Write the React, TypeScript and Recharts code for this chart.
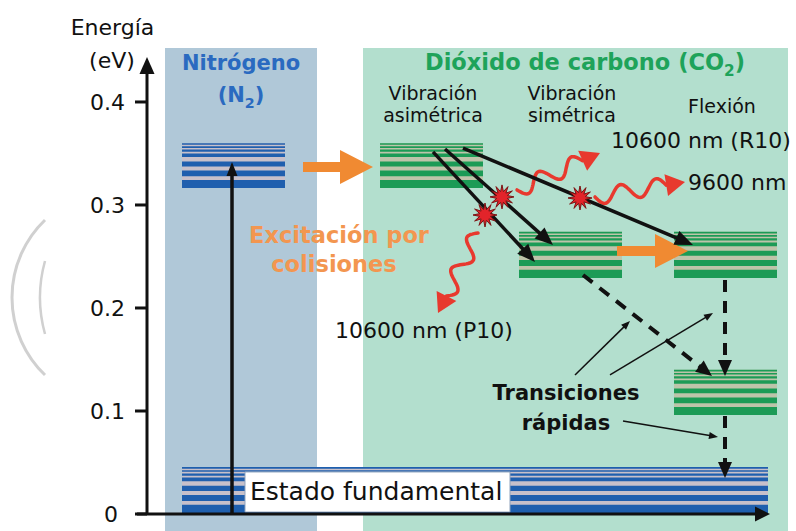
import React from 'react';
import { ComposedChart, XAxis, YAxis, ReferenceArea, ReferenceLine, ReferenceDot, Scatter } from 'recharts';

const FONT = '"DejaVu Sans", sans-serif';

// energy axis (eV)
const energyTicks = [0, 0.1, 0.2, 0.3, 0.4];

// molecule panels, x measured in px to the right of the energy axis
const panelNames = ['Nitrógeno', 'Dióxido de carbono'];
const panelStart = [18, 216];
const panelEnd = [170, 641];
const panelTop = 0.4524;

// vibrational levels: energy band (eV) and horizontal extent
const levelNames = ['N2 v=1', 'CO2 asimétrica', 'CO2 simétrica', 'CO2 flexión 2', 'CO2 flexión 1', 'Estado fundamental'];
const levelMolecule = ['N2', 'CO2', 'CO2', 'CO2', 'CO2', 'N2'];
const levelTop = [0.36, 0.36, 0.274, 0.274, 0.14, 0.0456];
const levelBottom = [0.3165, 0.3165, 0.229, 0.229, 0.096, 0.001];
const levelStart = [35, 233, 372, 527, 527, 35];
const levelEnd = [138, 336, 475, 630, 630, 621];

// transitions [x1, E1, x2, E2]
type Seg = [number, number, number, number];
const pumpArrow: Seg = [85, 0, 85, 0.3417];
const transferArrows: Seg[] = [[156, 0.3369, 226, 0.3369], [470, 0.2553, 541, 0.2553]];
const laserArrows: Seg[] = [[286, 0.3515, 388, 0.2447], [298, 0.3544, 406, 0.2612], [316, 0.3553, 546, 0.2612]];
const photonArrows: Seg[] = [[370, 0.3146, 453, 0.3505], [448, 0.3078, 538, 0.3223], [331, 0.2728, 291, 0.1951]];
const relaxArrows: Seg[] = [[436, 0.232, 565, 0.134], [578, 0.2272, 578, 0.134], [578, 0.0951, 578, 0.035]];
const pointerArrows: Seg[] = [[428, 0.135, 483, 0.1874], [463, 0.135, 566, 0.1951], [476, 0.0903, 571, 0.0748]];
const collisionX = [338, 355, 433];
const collisionY = [0.2903, 0.3078, 0.3068];
const collisions = collisionX.map((x, i) => ({ x, y: collisionY[i] }));

// texts
const labels = [
  { text: 'Energía', x: -34.5, y: 0.465, size: 22, color: '#111', anchor: 'middle' },
  { text: '(eV)', x: -35, y: 0.433, size: 22, color: '#111', anchor: 'middle' },
  { text: 'Nitrógeno', x: 94, y: 0.431, size: 21, color: '#2a6ac0', anchor: 'middle', bold: true },
  { text: '(N', sub: '2', after: ')', x: 94, y: 0.4, size: 21, color: '#2a6ac0', anchor: 'middle', bold: true },
  { text: 'Dióxido de carbono (CO', sub: '2', after: ')', x: 438, y: 0.431, size: 22.5, color: '#1ea35a', anchor: 'middle', bold: true },
  { text: 'Vibración', x: 286, y: 0.402, size: 19, color: '#111', anchor: 'middle' },
  { text: 'asimétrica', x: 286, y: 0.3806, size: 19, color: '#111', anchor: 'middle' },
  { text: 'Vibración', x: 425, y: 0.402, size: 19, color: '#111', anchor: 'middle' },
  { text: 'simétrica', x: 425, y: 0.3806, size: 19, color: '#111', anchor: 'middle' },
  { text: 'Flexión', x: 575, y: 0.3893, size: 19, color: '#111', anchor: 'middle' },
  { text: '10600 nm (R10)', x: 464, y: 0.3553, size: 22, color: '#111', anchor: 'start' },
  { text: '9600 nm', x: 541, y: 0.3146, size: 22, color: '#111', anchor: 'start' },
  { text: 'Excitación por', x: 192, y: 0.2631, size: 22.5, color: '#f39650', anchor: 'middle', bold: true },
  { text: 'colisiones', x: 187, y: 0.235, size: 22.5, color: '#f39650', anchor: 'middle', bold: true },
  { text: '10600 nm (P10)', x: 188, y: 0.1709, size: 22, color: '#111', anchor: 'start' },
  { text: 'Transiciones', x: 419, y: 0.1107, size: 21, color: '#111', anchor: 'middle', bold: true },
  { text: 'rápidas', x: 419, y: 0.0816, size: 21, color: '#111', anchor: 'middle', bold: true },
  { text: 'Estado fundamental', x: 103, y: 0.0136, size: 25, color: '#111', anchor: 'start' },
];

const STRIPES = [[0, 0.035], [0.07, 0.105], [0.14, 0.19], [0.23, 0.31], [0.41, 0.52], [0.61, 0.74], [0.82, 1]];
const levelStyle: Record<string, { stripe: string; gap: string }> = {
  N2: { stripe: '#1f5fae', gap: '#c7c0ca' },
  CO2: { stripe: '#1c9b56', gap: '#bec4aa' },
};
const panelFill = ['#b0c8d8', '#b3dfce'];

function unit(x1: number, y1: number, x2: number, y2: number) {
  const len = Math.hypot(x2 - x1, y2 - y1) || 1;
  return { len, ux: (x2 - x1) / len, uy: (y2 - y1) / len };
}

const makeArrow = (color: string, width: number, head: number, headW: number, dash?: string) => (p: any) => {
  const { x1, y1, x2, y2 } = p;
  const { ux, uy } = unit(x1, y1, x2, y2);
  const bx = x2 - ux * head;
  const by = y2 - uy * head;
  const hw = headW / 2;
  const pts = `${x2},${y2} ${bx - uy * hw},${by + ux * hw} ${bx + uy * hw},${by - ux * hw}`;
  return (
    <g>
      <line x1={x1} y1={y1} x2={bx + ux * 2} y2={by + uy * 2} stroke={color} strokeWidth={width} strokeDasharray={dash} />
      <polygon points={pts} fill={color} />
    </g>
  );
};

const makeWave = (color: string, amp: number, waves: number) => (p: any) => {
  const { x1, y1, x2, y2 } = p;
  const { len, ux, uy } = unit(x1, y1, x2, y2);
  const head = 19;
  const hw = 11;
  const L = len - head;
  let d = '';
  for (let i = 0; i <= 60; i++) {
    const t = i / 60;
    const off = amp * Math.sin(2 * Math.PI * waves * t);
    const px = x1 + ux * L * t - uy * off;
    const py = y1 + uy * L * t + ux * off;
    d += `${i ? 'L' : 'M'}${px.toFixed(1)},${py.toFixed(1)}`;
  }
  const bx = x2 - ux * head;
  const by = y2 - uy * head;
  const pts = `${x2},${y2} ${bx - uy * hw},${by + ux * hw} ${bx + uy * hw},${by - ux * hw}`;
  return (
    <g>
      <path d={d} fill="none" stroke={color} strokeWidth={3.5} strokeLinecap="round" />
      <polygon points={pts} fill={color} />
    </g>
  );
};

const blockArrow = (p: any) => {
  const { x1, y1, x2, y2 } = p;
  const { ux, uy } = unit(x1, y1, x2, y2);
  const head = 33;
  const s = 5;
  const h = 17;
  const bx = x2 - ux * head;
  const by = y2 - uy * head;
  const nx = -uy;
  const ny = ux;
  const pts = [
    [x1 + nx * s, y1 + ny * s], [bx + nx * s, by + ny * s], [bx + nx * h, by + ny * h], [x2, y2],
    [bx - nx * h, by - ny * h], [bx - nx * s, by - ny * s], [x1 - nx * s, y1 - ny * s],
  ].map((q) => q.join(',')).join(' ');
  return <polygon points={pts} fill="#f08a32" />;
};

const starShape = (p: any) => {
  const pts: string[] = [];
  for (let k = 0; k < 24; k++) {
    const r = k % 2 ? 5.5 : 12;
    const a = (Math.PI * k) / 12;
    pts.push(`${(p.cx + r * Math.cos(a)).toFixed(1)},${(p.cy + r * Math.sin(a)).toFixed(1)}`);
  }
  return <polygon points={pts.join(' ')} fill="#e2242a" stroke="#7a1414" strokeWidth={1} />;
};

const textShape = (lab: any) => (p: any) => (
  <text x={p.cx} y={p.cy} textAnchor={lab.anchor} fontFamily={FONT} fontSize={lab.size}
    fontWeight={lab.bold ? 'bold' : 'normal'} fill={lab.color}>
    {lab.text}
    {lab.sub && <tspan dy={6} fontSize={lab.size * 0.68}>{lab.sub}</tspan>}
    {lab.sub && <tspan dy={-6}>{lab.after}</tspan>}
  </text>
);

const watermark = (p: any) => (
  <g fill="none" stroke="#d0d0d0">
    <path d={`M${p.cx},${p.cy - 77.5} A107.5,107.5 0 0 0 ${p.cx},${p.cy + 77.5}`} strokeWidth={3} />
    <path d={`M${p.cx},${p.cy - 36.5} A136,136 0 0 0 ${p.cx},${p.cy + 36.5}`} strokeWidth={2.5} />
  </g>
);

const renderTick = (p: any) => {
  const v = p.payload.value;
  return (
    <text x={v === 0 ? p.x - 7 : p.x} y={p.y} dy="0.36em" textAnchor="end" fontFamily={FONT} fontSize={22} fill="#111">
      {v === 0 ? '0' : v.toFixed(1)}
    </text>
  );
};

const seg = (s: Seg) => [{ x: s[0], y: s[1] }, { x: s[2], y: s[3] }];

export default function App() {
  return (
    <div style={{ position: 'absolute', left: 0, top: 0, width: 796, height: 531, background: '#fff' }}>
      <ComposedChart width={796} height={531} margin={{ top: 0, right: 0, bottom: 0, left: 0 }}>
        <XAxis type="number" dataKey="x" domain={[0, 649]} allowDataOverflow hide />
        <YAxis type="number" dataKey="y" domain={[-0.0165, 0.499]} allowDataOverflow ticks={energyTicks} interval={0}
          width={147} axisLine={false} tickLine={{ stroke: '#111', strokeWidth: 3 }} tickSize={12} tickMargin={10}
          tick={renderTick} />

        {panelNames.map((n, i) => (
          <ReferenceArea key={n} x1={panelStart[i]} x2={panelEnd[i]} y1={-0.0165} y2={panelTop}
            fill={panelFill[i]} fillOpacity={1} stroke="none" ifOverflow="visible" />
        ))}

        {levelNames.map((name, i) => {
          const st = levelStyle[levelMolecule[i]];
          const h = levelTop[i] - levelBottom[i];
          return [
            <ReferenceArea key={name + '-bg'} x1={levelStart[i]} x2={levelEnd[i]} y1={levelBottom[i]} y2={levelTop[i]}
              fill={st.gap} fillOpacity={1} stroke="none" ifOverflow="visible" />,
            ...STRIPES.map(([a, b], k) => (
              <ReferenceArea key={name + k} x1={levelStart[i]} x2={levelEnd[i]} y1={levelTop[i] - b * h} y2={levelTop[i] - a * h}
                fill={st.stripe} fillOpacity={1} stroke="none" ifOverflow="visible" />
            )),
          ];
        })}

        <ReferenceArea x1={98} x2={363} y1={0.0019} y2={0.0408} fill="#fff" fillOpacity={1} stroke="#8fa3bd" strokeWidth={1} ifOverflow="visible" />

        {/* axes */}
        <ReferenceLine segment={[{ x: 0, y: 0 }, { x: 0, y: 0.4437 }]} ifOverflow="visible" shape={makeArrow('#111', 3, 17, 15)} />
        <ReferenceLine segment={[{ x: -10, y: 0 }, { x: 623, y: 0 }]} ifOverflow="visible" shape={makeArrow('#111', 3, 15, 15)} />

        <ReferenceLine segment={seg(pumpArrow)} ifOverflow="visible" shape={makeArrow('#111', 3.5, 14, 11)} />
        {transferArrows.map((s, i) => (
          <ReferenceLine key={'tr' + i} segment={seg(s)} ifOverflow="visible" shape={blockArrow} />
        ))}
        {photonArrows.map((s, i) => (
          <ReferenceLine key={'ph' + i} segment={seg(s)} ifOverflow="visible" shape={makeWave('#e8392e', 8, 2)} />
        ))}
        {laserArrows.map((s, i) => (
          <ReferenceLine key={'la' + i} segment={seg(s)} ifOverflow="visible" shape={makeArrow('#111', 3.5, 18, 15)} />
        ))}
        {relaxArrows.map((s, i) => (
          <ReferenceLine key={'re' + i} segment={seg(s)} ifOverflow="visible" shape={makeArrow('#111', 4, 16, 14, '12 9')} />
        ))}
        {pointerArrows.map((s, i) => (
          <ReferenceLine key={'po' + i} segment={seg(s)} ifOverflow="visible" shape={makeArrow('#111', 1.5, 9, 7)} />
        ))}

        <Scatter data={collisions} isAnimationActive={false} shape={starShape} />

        <ReferenceDot x={-102} y={0.2102} ifOverflow="visible" shape={watermark} />
        {labels.map((lab, i) => (
          <ReferenceDot key={'lab' + i} x={lab.x} y={lab.y} ifOverflow="visible" shape={textShape(lab)} />
        ))}
      </ComposedChart>
    </div>
  );
}
